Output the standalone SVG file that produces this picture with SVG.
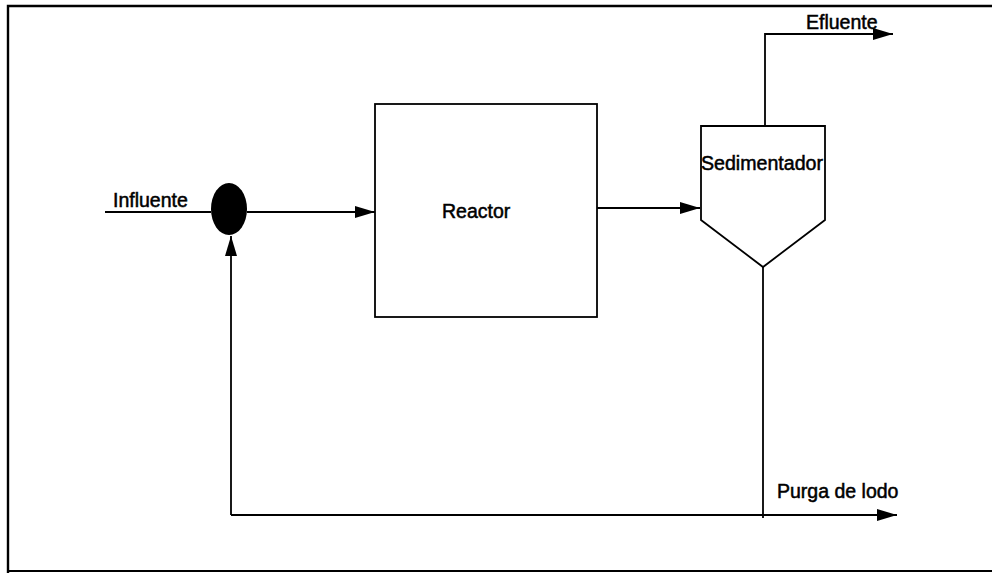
<svg xmlns="http://www.w3.org/2000/svg" width="992" height="573" viewBox="0 0 992 573">
<style>
.ln{fill:none;stroke:#000;stroke-width:1.8}
.box{fill:#fff;stroke:#000;stroke-width:1.8}
.lbl{font-family:"Liberation Sans",Arial,sans-serif;font-size:19.5px;fill:#000;stroke:#000;stroke-width:0.5}
</style>
<defs>
<marker id="ah" viewBox="0 0 20 12" refX="20" refY="6" markerWidth="20" markerHeight="12" markerUnits="userSpaceOnUse" orient="auto">
<path d="M0,0 L20,6 L0,12 Z" fill="#000"/>
</marker>
</defs>
<rect width="992" height="573" fill="#fff"/>
<g id="frame">
<path d="M8,573 L8,6 L992,6" fill="none" stroke="#000" stroke-width="2.4"/>
<path d="M8,571 L992,571" fill="none" stroke="#000" stroke-width="1.8"/>
</g>
<g id="connectors">
<path class="ln" d="M105,212 L211,212"/>
<path class="ln" d="M247,212 L375,212" marker-end="url(#ah)"/>
<path class="ln" d="M597,208 L700,208" marker-end="url(#ah)"/>
<path class="ln" d="M765,126 L765,34 L893,34" marker-end="url(#ah)"/>
<path class="ln" d="M763,267 L763,518"/>
<path class="ln" d="M231,515 L897,515" marker-end="url(#ah)"/>
<path class="ln" d="M231,515 L231,236" marker-end="url(#ah)"/>
</g>
<g id="mixer">
<ellipse cx="229" cy="209" rx="18" ry="26" fill="#000"/>
</g>
<g id="reactor">
<rect class="box" x="375" y="104" width="222" height="213"/>
<text class="lbl" x="442" y="218">Reactor</text>
</g>
<g id="sedimentador">
<path class="box" d="M701,126 L825,126 L825,220 L763,267 L701,220 Z"/>
<text class="lbl" x="701" y="170" textLength="122" lengthAdjust="spacingAndGlyphs">Sedimentador</text>
</g>
<g id="labels">
<text class="lbl" x="113" y="207">Influente</text>
<text class="lbl" x="806" y="29">Efluente</text>
<text class="lbl" x="777" y="498">Purga de lodo</text>
</g>
</svg>
